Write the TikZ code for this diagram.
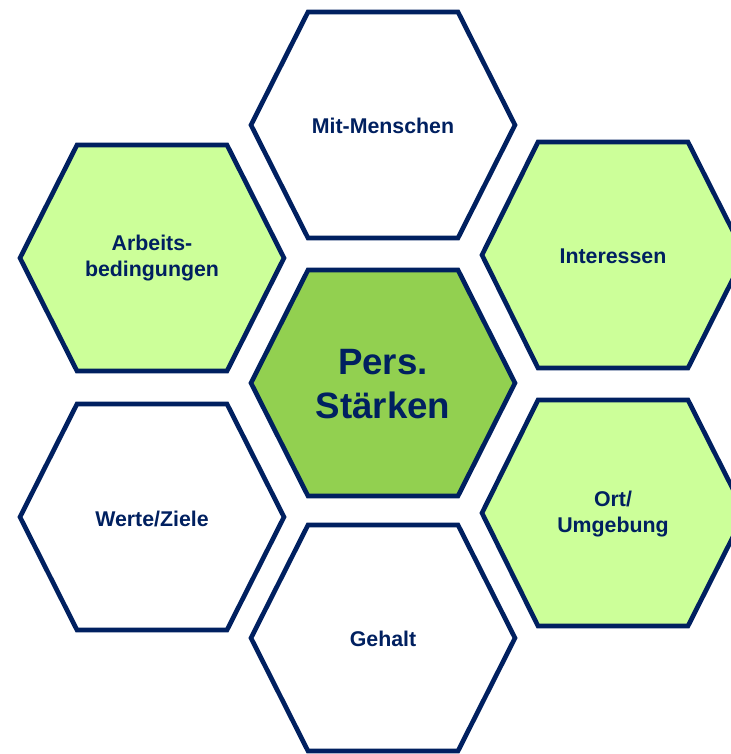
\documentclass[tikz,border=0pt]{standalone}
\usepackage{fontspec}
\setmainfont{Liberation Sans}
\usepackage{tikz}

\definecolor{navy}{RGB}{0,32,96}
\definecolor{hellgruen}{RGB}{204,255,153}
\definecolor{mittelgruen}{RGB}{146,208,80}

\tikzset{
  wabe/.style={draw=navy, line width=3.5pt, line join=miter},
  wabetext/.style={text=navy, align=center, inner sep=0.75pt, font=\fontsize{16}{19}\selectfont\bfseries},
}

\begin{document}
\begin{tikzpicture}[x=0.75pt,y=0.75pt,yscale=-1,xscale=1]
        \useasboundingbox (0,0) rectangle (731,754);
        % outer ring
        \draw [wabe, fill=white] (308,12) -- (458,12) -- (515,125) -- (458,238) -- (308,238) -- (251,125) -- cycle ;
        \draw [wabe, fill=hellgruen] (77,145) -- (227,145) -- (284,258) -- (227,371) -- (77,371) -- (20,258) -- cycle ;
        \draw [wabe, fill=hellgruen] (538,142) -- (688,142) -- (745,255) -- (688,368) -- (538,368) -- (482,255) -- cycle ;
        \draw [wabe, fill=white] (77,404) -- (227,404) -- (284,517) -- (227,630) -- (77,630) -- (20,517) -- cycle ;
        \draw [wabe, fill=hellgruen] (538,400) -- (688,400) -- (745,513) -- (688,626) -- (538,626) -- (482,513) -- cycle ;
        \draw [wabe, fill=white] (308,525) -- (458,525) -- (515,638) -- (458,751) -- (308,751) -- (251,638) -- cycle ;
        % middle
        \draw [wabe, fill=mittelgruen] (308,270) -- (458,270) -- (515,383) -- (458,496) -- (308,496) -- (251,383) -- cycle ;

        \draw (383,126) node [wabetext] (menschen) {Mit-Menschen};
        \draw (152,258) node [wabetext] (arbeit) {Arbeits-\\bedingungen};
        \draw (613,256) node [wabetext] (interessen) {Interessen};
        \draw (383,384) node [wabetext, font=\fontsize{27.5}{33.5}\selectfont\bfseries] (staerken) {Pers.\\Stärken};
        \draw (152,519) node [wabetext] (werte) {Werte/Ziele};
        \draw (613,514) node [wabetext] (ort) {Ort/\\Umgebung};
        \draw (383,639) node [wabetext] (gehalt) {Gehalt};
    \end{tikzpicture}
\end{document}
